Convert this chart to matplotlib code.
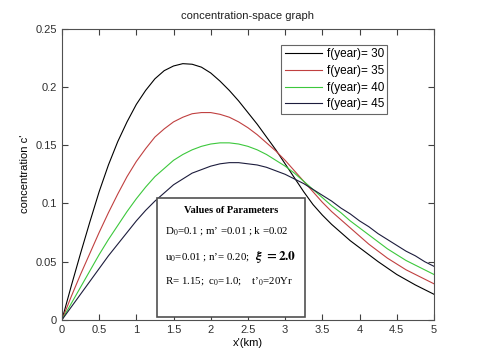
import numpy as np
import matplotlib
matplotlib.use('Agg')
from matplotlib import pyplot as plt
from matplotlib.ticker import FormatStrFormatter

plt.rcParams['font.family'] = ['Liberation Sans', 'DejaVu Sans']
plt.rcParams['mathtext.fontset'] = 'stix'

# distance x'(km), sampled every 0.125 km
x = np.arange(0, 5.001, 0.125)

# concentration for each year
c30 = [0, 0.029, 0.057, 0.084, 0.110, 0.133, 0.153, 0.170, 0.185, 0.197, 0.207,
       0.214, 0.218, 0.220, 0.2195, 0.217, 0.212, 0.205, 0.197, 0.188, 0.178,
       0.168, 0.157, 0.146, 0.134, 0.122, 0.110, 0.099, 0.090, 0.082, 0.075,
       0.068, 0.062, 0.056, 0.050, 0.0445, 0.039, 0.0345, 0.030, 0.026, 0.022]
c35 = [0, 0.020, 0.039, 0.057, 0.075, 0.092, 0.108, 0.123, 0.136, 0.147, 0.157,
       0.164, 0.170, 0.174, 0.177, 0.178, 0.178, 0.1765, 0.174, 0.170, 0.165,
       0.159, 0.152, 0.145, 0.137, 0.128, 0.119, 0.110, 0.101, 0.093, 0.086,
       0.079, 0.072, 0.065, 0.059, 0.053, 0.048, 0.043, 0.039, 0.035, 0.031]
c40 = [0, 0.014, 0.028, 0.042, 0.056, 0.069, 0.081, 0.093, 0.104, 0.114, 0.123,
       0.130, 0.137, 0.142, 0.146, 0.149, 0.151, 0.152, 0.152, 0.151, 0.149,
       0.146, 0.142, 0.137, 0.132, 0.126, 0.119, 0.112, 0.105, 0.098, 0.092,
       0.085, 0.079, 0.073, 0.067, 0.061, 0.056, 0.051, 0.047, 0.043, 0.039]
c45 = [0, 0.011, 0.022, 0.033, 0.044, 0.055, 0.065, 0.075, 0.085, 0.094, 0.102,
       0.109, 0.116, 0.121, 0.126, 0.129, 0.132, 0.134, 0.135, 0.135, 0.134,
       0.133, 0.131, 0.128, 0.125, 0.121, 0.117, 0.112, 0.107, 0.102, 0.096,
       0.091, 0.085, 0.080, 0.074, 0.069, 0.064, 0.059, 0.055, 0.050, 0.046]

labels = ['f(year)= 30', 'f(year)= 35', 'f(year)= 40', 'f(year)= 45']
colors = ['#000000', '#c04040', '#3cc83c', '#1c1c3c']

fig = plt.figure(figsize=(4.8, 3.59), dpi=100)
ax = fig.add_axes([0.129, 0.109, 0.775, 0.811])

for c, lab, col in zip([c30, c35, c40, c45], labels, colors):
    ax.plot(x, c, color=col, lw=0.8, label=lab)

ax.set_xlim(0, 5)
ax.set_ylim(0, 0.25)
ax.set_xticks(np.arange(0, 5.01, 0.5))
ax.set_yticks(np.arange(0, 0.251, 0.05))
ax.xaxis.set_major_formatter(FormatStrFormatter('%g'))
ax.yaxis.set_major_formatter(FormatStrFormatter('%g'))
ax.tick_params(direction='in', top=True, right=True, labelsize=8, length=4,
               color='#404040', labelcolor='#303030')
for s in ax.spines.values():
    s.set_color('#505050')
    s.set_linewidth(0.8)

ax.set_title('concentration-space graph', fontsize=8, color='#202020', pad=7)
ax.set_xlabel("x'(km)", fontsize=8, labelpad=2)
ax.set_ylabel("concentration c'", fontsize=8, labelpad=4)

leg = ax.legend(loc='upper right', bbox_to_anchor=(0.875, 0.945), fontsize=8.5,
                frameon=True, fancybox=False, handlelength=3.2, handletextpad=0.35,
                borderpad=0.3, labelspacing=0.4, borderaxespad=0)
leg.get_frame().set_edgecolor('#404040')
leg.get_frame().set_linewidth(0.8)

# parameter box
ax.add_patch(plt.Rectangle((1.28, 0.0025), 1.99, 0.1025, facecolor='white',
                           edgecolor='#505050', lw=1.2, zorder=5))
serif = ['Liberation Serif', 'DejaVu Serif']
ax.text(2.27, 0.094, 'Values of Parameters', ha='center', va='center',
        fontsize=7.5, fontweight='bold', family=serif, zorder=6)
ax.text(1.38, 0.076, "D$_0$=0.1 ; m\u2019 =0.01 ; k =0.02", ha='left',
        va='center', fontsize=7.8, family=serif, zorder=6)
ax.text(1.38, 0.054, "u$_0$=0.01 ; n\u2019= 0.20;", ha='left',
        va='center', fontsize=7.8, family=serif, zorder=6)
ax.text(2.6, 0.054, r"$\boldsymbol{\xi}$ $\mathbf{= 2.0}$", ha='left',
        va='center', fontsize=9.5, zorder=6)
ax.text(1.38, 0.033, "R= 1.15;  c$_0$=1.0;    t\u2019$_0$=20Yr", ha='left',
        va='center', fontsize=7.8, family=serif, zorder=6)

fig.savefig('out.png', dpi=100)
